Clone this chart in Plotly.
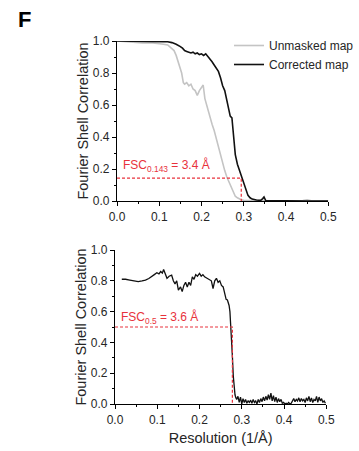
import plotly.graph_objects as go

# ---------------- data ----------------
corr_x = [0, 0.02, 0.04, 0.06, 0.08, 0.10, 0.11, 0.12, 0.13, 0.14, 0.145, 0.15, 0.155, 0.16,
          0.165, 0.17, 0.175, 0.18, 0.185, 0.19, 0.195, 0.20, 0.205, 0.21, 0.215, 0.22, 0.225,
          0.23, 0.235, 0.24, 0.245, 0.25, 0.255, 0.26, 0.265, 0.268, 0.272, 0.275, 0.28, 0.285,
          0.29, 0.295, 0.30, 0.305, 0.31, 0.315, 0.32, 0.33, 0.34, 0.345, 0.348, 0.352, 0.36,
          0.40, 0.45, 0.50]
corr_y = [1.0, 1.0, 1.0, 1.0, 0.998, 0.997, 0.996, 0.995, 0.99, 0.98, 0.975, 0.965, 0.955, 0.94,
          0.935, 0.93, 0.925, 0.93, 0.92, 0.925, 0.915, 0.92, 0.91, 0.92, 0.905, 0.89, 0.87,
          0.85, 0.83, 0.81, 0.77, 0.72, 0.69, 0.63, 0.56, 0.53, 0.52, 0.42, 0.29, 0.23,
          0.19, 0.155, 0.11, 0.07, 0.035, 0.02, 0.012, 0.006, 0.004, 0.015, 0.025, 0.003, 0.002,
          0.001, 0.0, 0.0]

unm_x = [0, 0.02, 0.04, 0.06, 0.08, 0.10, 0.11, 0.12, 0.125, 0.13, 0.135, 0.14, 0.145, 0.15,
         0.153, 0.157, 0.16, 0.165, 0.17, 0.175, 0.18, 0.185, 0.19, 0.195, 0.2, 0.204, 0.208,
         0.212, 0.216, 0.22, 0.225, 0.23, 0.235, 0.24, 0.245, 0.25, 0.255, 0.26, 0.265, 0.27,
         0.275, 0.28, 0.285, 0.29, 0.295, 0.30, 0.35, 0.40, 0.44, 0.45, 0.46, 0.50]
unm_y = [1.0, 0.995, 0.99, 0.988, 0.99, 0.985, 0.98, 0.975, 0.965, 0.955, 0.94, 0.91, 0.87, 0.83,
         0.80, 0.74, 0.73, 0.74, 0.72, 0.73, 0.70, 0.69, 0.66, 0.69, 0.71, 0.725, 0.64,
         0.60, 0.56, 0.52, 0.48, 0.44, 0.39, 0.34, 0.29, 0.23, 0.19, 0.15, 0.12, 0.08,
         0.05, 0.03, 0.02, 0.012, 0.007, 0.004, 0.0, 0.0, 0.003, 0.008, 0.002, 0.0]

fsc_x = [0.016, 0.025, 0.035, 0.045, 0.055, 0.064, 0.072, 0.08, 0.087, 0.093, 0.099, 0.104,
         0.108, 0.112, 0.115, 0.119, 0.123, 0.128, 0.134, 0.138, 0.142, 0.146, 0.15, 0.155,
         0.159, 0.163, 0.167, 0.171, 0.175, 0.179, 0.183, 0.187, 0.191, 0.195, 0.2, 0.204,
         0.208, 0.212, 0.216, 0.22, 0.224, 0.228, 0.232, 0.236, 0.24, 0.244, 0.248, 0.252,
         0.256, 0.26, 0.263, 0.266, 0.268, 0.27, 0.272, 0.274, 0.276, 0.278, 0.28, 0.282,
         0.284, 0.286,
         0.288, 0.291, 0.294, 0.297, 0.300, 0.303, 0.306, 0.309, 0.312, 0.315, 0.318, 0.321,
         0.324, 0.327, 0.330, 0.333, 0.336, 0.339, 0.342, 0.345, 0.348, 0.351, 0.354, 0.357,
         0.360, 0.363, 0.366, 0.369, 0.372, 0.375, 0.378, 0.381, 0.384, 0.387, 0.390, 0.393,
         0.396, 0.399, 0.402, 0.405, 0.408, 0.411, 0.414, 0.417, 0.420, 0.423, 0.426, 0.429,
         0.432, 0.435, 0.438, 0.441, 0.444, 0.447, 0.450, 0.453, 0.456, 0.459, 0.462, 0.465,
         0.468, 0.471, 0.474, 0.477, 0.480, 0.483, 0.486, 0.489, 0.492, 0.495, 0.498]
fsc_y = [0.81, 0.81, 0.805, 0.80, 0.795, 0.80, 0.805, 0.815, 0.826, 0.84, 0.852, 0.845,
         0.86, 0.85, 0.874, 0.84, 0.816, 0.83, 0.837, 0.80, 0.78, 0.80, 0.74, 0.76,
         0.73, 0.77, 0.79, 0.76, 0.79, 0.77, 0.826, 0.81, 0.84, 0.83, 0.848, 0.83,
         0.84, 0.826, 0.82, 0.816, 0.81, 0.80, 0.75, 0.80, 0.816, 0.79, 0.80, 0.77,
         0.76, 0.72, 0.68, 0.675, 0.66, 0.64, 0.60, 0.52, 0.42, 0.30, 0.18, 0.10,
         0.06, 0.04,
         0.03, 0.05, 0.01, 0.045, 0.0, 0.035, 0.01, 0.03, 0.005, 0.02, 0.01, 0.025,
         0.005, 0.03, 0.01, 0.02, 0.0, 0.03, 0.01, 0.035, 0.015, 0.045, 0.02, 0.05,
         0.025, 0.06, 0.03, 0.07, 0.02, 0.055, 0.015, 0.045, 0.01, 0.035, 0.015, 0.03,
         0.005, 0.01, 0.0, 0.005, 0.0, 0.01, 0.0, 0.005, 0.02, 0.035, 0.015, 0.03,
         0.02, 0.04, 0.015, 0.035, 0.02, 0.03, 0.01, 0.04, 0.02, 0.05, 0.015, 0.04,
         0.01, 0.03, 0.02, 0.05, 0.01, 0.045, 0.02, 0.035, 0.01, 0.02, 0.005]

thresholds = [0.143, 0.5]        # FSC criteria
resolutions = [3.4, 3.6]         # Å
threshold_labels = ["FSC<sub>0.143</sub> = 3.4 Å", "FSC<sub>0.5</sub> = 3.6 Å"]
x_ticks = [0.0, 0.1, 0.2, 0.3, 0.4, 0.5]
y_ticks = [0.0, 0.2, 0.4, 0.6, 0.8, 1.0]

RED = "#e8323c"
TXT = "#262626"
FONT = "Liberation Sans, Arial, sans-serif"

fig = go.Figure()

fig.add_trace(go.Scatter(x=unm_x, y=unm_y, mode="lines", name="Unmasked map",
                         line=dict(color="#c4c4c4", width=1.6), xaxis="x", yaxis="y"))
fig.add_trace(go.Scatter(x=corr_x, y=corr_y, mode="lines", name="Corrected map",
                         line=dict(color="#111111", width=1.6), xaxis="x", yaxis="y"))
fig.add_trace(go.Scatter(x=fsc_x, y=fsc_y, mode="lines", showlegend=False,
                         line=dict(color="#111111", width=1.3), xaxis="x2", yaxis="y2"))

# threshold guide lines
for i, (t, r) in enumerate(zip(thresholds, resolutions)):
    xa, ya = ("x", "y") if i == 0 else ("x2", "y2")
    fig.add_trace(go.Scatter(x=[0, 1 / r, 1 / r], y=[t, t, 0], mode="lines", showlegend=False,
                             line=dict(color=RED, width=1.2, dash="3px,2px"),
                             xaxis=xa, yaxis=ya))

fig.add_annotation(x=0.01, y=0.225, xref="x", yref="y", text=threshold_labels[0],
                   showarrow=False, xanchor="left", yanchor="middle",
                   font=dict(color=RED, size=12, family=FONT))
fig.add_annotation(x=0.01, y=0.56, xref="x2", yref="y2", text=threshold_labels[1],
                   showarrow=False, xanchor="left", yanchor="middle",
                   font=dict(color=RED, size=12, family=FONT))

fig.add_annotation(x=16 / 359, y=1 - 20 / 451, xref="paper", yref="paper", text="<b>F</b>",
                   showarrow=False, xanchor="left", yanchor="middle",
                   font=dict(color="#000000", size=22, family=FONT))

def xaxis(domain, anchor, title=None):
    d = dict(domain=domain, anchor=anchor, range=[0, 0.5], tickvals=x_ticks,
             ticktext=[f"{v:.1f}" for v in x_ticks], automargin=False,
             showline=True, linecolor="#000000", linewidth=1.2, mirror=False,
             ticks="outside", ticklen=4, tickwidth=1, tickcolor="#000000",
             minor=dict(ticks="outside", ticklen=2, dtick=0.05, tickcolor="#000000"),
             showgrid=False, zeroline=False,
             tickfont=dict(size=12, color=TXT, family=FONT))
    if title:
        d["title"] = dict(text=title, font=dict(size=14.5, color=TXT, family=FONT), standoff=7)
    return d

def yaxis(domain, anchor):
    return dict(domain=domain, anchor=anchor, range=[0, 1], tickvals=y_ticks,
                ticktext=[f"{v:.1f}" for v in y_ticks], automargin=False,
                showline=True, linecolor="#000000", linewidth=1.2,
                ticks="outside", ticklen=4, tickwidth=1, tickcolor="#000000",
                minor=dict(ticks="outside", ticklen=2, dtick=0.1, tickcolor="#000000"),
                showgrid=False, zeroline=False,
                tickfont=dict(size=12, color=TXT, family=FONT),
                title=dict(text="Fourier Shell Correlation",
                           font=dict(size=14.5, color=TXT, family=FONT), standoff=0))

fig.update_layout(
    width=359, height=451, autosize=False,
    margin=dict(l=0, r=0, t=0, b=0, pad=0),
    paper_bgcolor="white", plot_bgcolor="white",
    font=dict(family=FONT, color=TXT),
    xaxis=xaxis([118 / 359, 331 / 359], "y"),
    yaxis=yaxis([1 - 201 / 451, 1 - 41 / 451], "x"),
    xaxis2=xaxis([116 / 359, 329 / 359], "y2", "Resolution (1/Å)"),
    yaxis2=yaxis([1 - 404 / 451, 1 - 250 / 451], "x2"),
    legend=dict(x=231 / 359, y=1 - 31 / 451, xanchor="left", yanchor="top",
                bgcolor="rgba(0,0,0,0)", font=dict(size=12, color=TXT, family=FONT),
                tracegroupgap=0, itemwidth=30),
    showlegend=True,
)

fig.write_html("out.html",
               config={"displayModeBar": False, "responsive": False},
               post_script="document.body.style.margin='0';document.body.style.overflow='hidden';")
